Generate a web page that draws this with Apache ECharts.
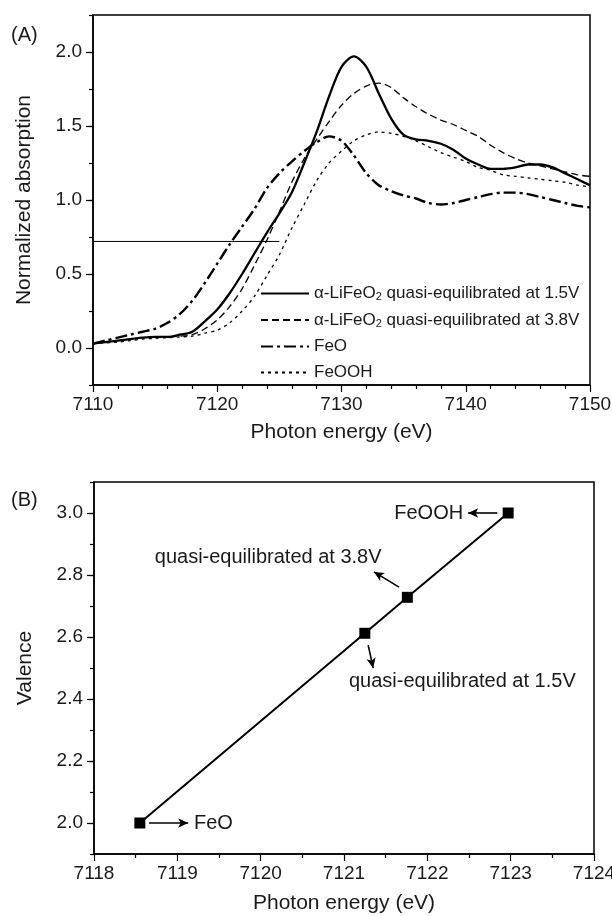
<!DOCTYPE html>
<html>
<head>
<meta charset="utf-8">
<script src="https://cdn.jsdelivr.net/npm/echarts@6/dist/echarts.min.js"></script>
<style>
html,body{margin:0;padding:0;background:#fff;}
#chart{width:612px;height:916px;}
</style>
</head>
<body>
<div id="chart"></div>
<script>
// ---------- Panel (A): XANES spectra ----------
const energy = [7110,7111,7112,7113,7114,7115,7116,7117,7118,7119,7120,7121,7122,7123,7124,7125,7126,7127,7128,7129,7130,7131,7132,7133,7134,7135,7136,7137,7138,7139,7140,7141,7142,7143,7144,7145,7146,7147,7148,7149,7150];
const abs15V = [0.03,0.04,0.05,0.06,0.07,0.075,0.075,0.09,0.11,0.18,0.26,0.37,0.50,0.64,0.78,0.91,1.05,1.25,1.46,1.70,1.90,1.97,1.90,1.72,1.55,1.44,1.41,1.40,1.38,1.34,1.28,1.24,1.21,1.21,1.22,1.24,1.24,1.22,1.18,1.14,1.10];
const abs38V = [0.03,0.04,0.05,0.06,0.07,0.075,0.075,0.08,0.09,0.13,0.19,0.28,0.40,0.56,0.73,0.92,1.12,1.28,1.41,1.53,1.64,1.72,1.77,1.79,1.76,1.69,1.63,1.58,1.54,1.51,1.47,1.43,1.37,1.32,1.28,1.25,1.23,1.21,1.19,1.17,1.16];
const absFeO = [0.03,0.05,0.07,0.09,0.11,0.13,0.17,0.23,0.32,0.44,0.57,0.70,0.82,0.94,1.08,1.18,1.26,1.33,1.39,1.43,1.40,1.30,1.18,1.10,1.06,1.03,1.01,0.98,0.97,0.98,1.00,1.02,1.04,1.05,1.05,1.04,1.02,1.00,0.98,0.96,0.95];
const absFeOOH = [0.03,0.035,0.04,0.05,0.06,0.065,0.07,0.075,0.08,0.10,0.12,0.17,0.25,0.35,0.49,0.63,0.81,0.97,1.13,1.25,1.33,1.40,1.44,1.46,1.45,1.43,1.40,1.36,1.32,1.29,1.26,1.22,1.20,1.17,1.16,1.15,1.14,1.13,1.12,1.10,1.09];
const seriesNamesA = ['1.5V','3.8V','FeO','FeOOH'];
const refLineEnergy = [7110, 7125];
const refLineLevel = 0.72;
const yTicksA = [0.0, 0.5, 1.0, 1.5, 2.0];

// ---------- Panel (B): valence vs edge energy ----------
const edgeEnergy = [7118.55, 7121.25, 7121.76, 7122.97];
const valence = [2.0, 2.612, 2.728, 3.0];
const yTicksB = [2.0, 2.2, 2.4, 2.6, 2.8, 3.0];
// annotation texts and their anchor / arrow coordinates (data units)
const noteTexts = ['FeO', 'quasi-equilibrated at 1.5V', 'quasi-equilibrated at 3.8V', 'FeOOH'];
const noteAnchors = [[7119.2, 2.0], [7122.42, 2.455], [7120.09, 2.855], [7122.43, 3.0]];
const notePositions = ['right', 'inside', 'inside', 'left'];
const arrowFrom = [[7118.66, 2.0], [7121.29, 2.574], [7121.66, 2.761], [7122.84, 3.0]];
const arrowTo   = [[7119.13, 2.0], [7121.35, 2.500], [7121.36, 2.810], [7122.49, 3.0]];

const FONT = 'Liberation Sans, Arial, Helvetica, sans-serif';
const TXT = '#1a1a1a';
const zip = (xs, ys) => xs.map((x, i) => [x, ys[i]]);

const chart = echarts.init(document.getElementById('chart'), null, {renderer: 'canvas'});

function legendLabel(name) {
  if (name === '1.5V' || name === '3.8V') {
    return '{t|α-LiFeO}{s|2}{t| quasi-equilibrated at ' + name + '}';
  }
  return '{t|' + name + '}';
}

const axisLineStyle = {color: '#000', width: 1.5};
const tickStyle = {color: '#000', width: 1.2};
const plainNum = v => String(v);

const option = {
  animation: false,
  backgroundColor: '#fff',
  textStyle: {fontFamily: FONT, color: TXT},
  graphic: [
    {type: 'text', left: 11, top: 25, style: {text: '(A)', font: '20px ' + FONT, fill: TXT}},
    {type: 'text', left: 11, top: 490, style: {text: '(B)', font: '20px ' + FONT, fill: TXT}}
  ],
  legend: {
    data: seriesNamesA,
    orient: 'vertical',
    left: 255,
    top: 280,
    itemWidth: 48,
    itemHeight: 12,
    itemGap: 9,
    selectedMode: false,
    formatter: legendLabel,
    itemStyle: {opacity: 0, borderWidth: 0},
    textStyle: {
      fontFamily: FONT, color: TXT, fontSize: 17,
      rich: {
        t: {fontFamily: FONT, fontSize: 17, color: TXT},
        s: {fontFamily: FONT, fontSize: 11, color: TXT, padding: [7, 0, 0, 0]}
      }
    }
  },
  grid: [
    {left: 93, top: 15, width: 497, height: 370, show: true, borderColor: '#000', borderWidth: 1.5,
     backgroundColor: 'transparent', outerBoundsMode: 'none', containLabel: false},
    {left: 94, top: 482, width: 500, height: 372, show: true, borderColor: '#000', borderWidth: 1.5,
     backgroundColor: 'transparent', outerBoundsMode: 'none', containLabel: false}
  ],
  xAxis: [
    {
      gridIndex: 0, type: 'value', position: 'bottom', min: 7110, max: 7150, interval: 10,
      axisLine: {onZero: false, lineStyle: axisLineStyle},
      axisTick: {length: 7, lineStyle: tickStyle},
      minorTick: {show: true, splitNumber: 5, length: 4, lineStyle: tickStyle},
      splitLine: {show: false}, minorSplitLine: {show: false},
      axisLabel: {fontSize: 19, color: TXT, margin: 10, fontFamily: FONT, formatter: plainNum},
      name: 'Photon energy (eV)', nameLocation: 'middle', nameGap: 37,
      nameTextStyle: {fontSize: 21, color: TXT, fontFamily: FONT}
    },
    {
      gridIndex: 1, type: 'value', position: 'bottom', min: 7118, max: 7124, interval: 1,
      axisLine: {onZero: false, lineStyle: axisLineStyle},
      axisTick: {length: 7, lineStyle: tickStyle},
      minorTick: {show: true, splitNumber: 2, length: 4, lineStyle: tickStyle},
      splitLine: {show: false}, minorSplitLine: {show: false},
      axisLabel: {fontSize: 19, color: TXT, margin: 10, fontFamily: FONT, formatter: plainNum},
      name: 'Photon energy (eV)', nameLocation: 'middle', nameGap: 39,
      nameTextStyle: {fontSize: 21, color: TXT, fontFamily: FONT}
    }
  ],
  yAxis: [
    {
      gridIndex: 0, type: 'value', position: 'left', min: -0.25, max: 2.25, interval: 0.25,
      axisLine: {show: true, onZero: false, lineStyle: axisLineStyle},
      axisTick: {show: true, length: 4, lineStyle: tickStyle},
      axisLabel: {show: false},
      splitLine: {show: false},
      name: 'Normalized absorption', nameLocation: 'middle', nameGap: 58,
      nameTextStyle: {fontSize: 21, color: TXT, fontFamily: FONT}
    },
    {
      gridIndex: 0, type: 'value', position: 'left', offset: 0, min: -0.25, max: 2.25,
      axisLine: {show: false, onZero: false},
      axisTick: {show: true, length: 7, lineStyle: tickStyle, customValues: yTicksA},
      axisLabel: {show: true, fontSize: 19, color: TXT, margin: 11, fontFamily: FONT, customValues: yTicksA, formatter: v => v.toFixed(1)},
      splitLine: {show: false}
    },
    {
      gridIndex: 1, type: 'value', position: 'left', min: 1.9, max: 3.1, interval: 0.1,
      axisLine: {show: true, onZero: false, lineStyle: axisLineStyle},
      axisTick: {show: true, length: 4, lineStyle: tickStyle},
      axisLabel: {show: false},
      splitLine: {show: false},
      name: 'Valence', nameLocation: 'middle', nameGap: 58,
      nameTextStyle: {fontSize: 21, color: TXT, fontFamily: FONT}
    },
    {
      gridIndex: 1, type: 'value', position: 'left', offset: 0, min: 1.9, max: 3.1,
      axisLine: {show: false, onZero: false},
      axisTick: {show: true, length: 7, lineStyle: tickStyle, customValues: yTicksB},
      axisLabel: {show: true, fontSize: 19, color: TXT, margin: 11, fontFamily: FONT, customValues: yTicksB, formatter: v => v.toFixed(1)},
      splitLine: {show: false}
    }
  ],
  series: [
    {
      name: '1.5V', type: 'line', xAxisIndex: 0, yAxisIndex: 0, smooth: 0.3, symbol: 'none',
      data: zip(energy, abs15V), lineStyle: {color: '#000', width: 2.3, type: 'solid'}, itemStyle: {color: '#000'}, z: 5
    },
    {
      name: '3.8V', type: 'line', xAxisIndex: 0, yAxisIndex: 0, smooth: 0.3, symbol: 'none',
      data: zip(energy, abs38V), lineStyle: {color: '#000', width: 1.3, type: [7, 4]}, itemStyle: {color: '#000'}, z: 4
    },
    {
      name: 'FeO', type: 'line', xAxisIndex: 0, yAxisIndex: 0, smooth: 0.3, symbol: 'none',
      data: zip(energy, absFeO), lineStyle: {color: '#000', width: 2.4, type: [12, 4, 3, 4]}, itemStyle: {color: '#000'}, z: 4
    },
    {
      name: 'FeOOH', type: 'line', xAxisIndex: 0, yAxisIndex: 0, smooth: 0.3, symbol: 'none',
      data: zip(energy, absFeOOH), lineStyle: {color: '#000', width: 1.3, type: [3, 4]}, itemStyle: {color: '#000'}, z: 4
    },
    {
      name: 'ref', type: 'line', xAxisIndex: 0, yAxisIndex: 0, symbol: 'none', silent: true,
      data: refLineEnergy.map(e => [e, refLineLevel]), lineStyle: {color: '#000', width: 1}, z: 3
    },
    {
      name: 'valence', type: 'line', xAxisIndex: 1, yAxisIndex: 2,
      data: zip(edgeEnergy, valence),
      symbol: 'rect', symbolSize: 11, showSymbol: true,
      lineStyle: {color: '#000', width: 2}, itemStyle: {color: '#000'}, z: 5
    },
    {
      name: 'notes', type: 'scatter', xAxisIndex: 1, yAxisIndex: 2, silent: true,
      symbolSize: 0,
      itemStyle: {opacity: 1, color: '#000'},
      data: noteAnchors.map((p, i) => ({
        value: p,
        label: {show: true, position: notePositions[i], distance: 0, formatter: noteTexts[i],
                fontSize: 20, color: TXT, fontFamily: FONT, opacity: 1}
      })),
      markLine: {
        silent: true, animation: false,
        symbol: ['none', 'arrow'], symbolSize: [7, 10],
        lineStyle: {color: '#000', width: 1.6, type: 'solid'},
        label: {show: false},
        data: arrowFrom.map((p, i) => [{coord: p}, {coord: arrowTo[i]}])
      }
    }
  ]
};
chart.setOption(option);
</script>
</body>
</html>
